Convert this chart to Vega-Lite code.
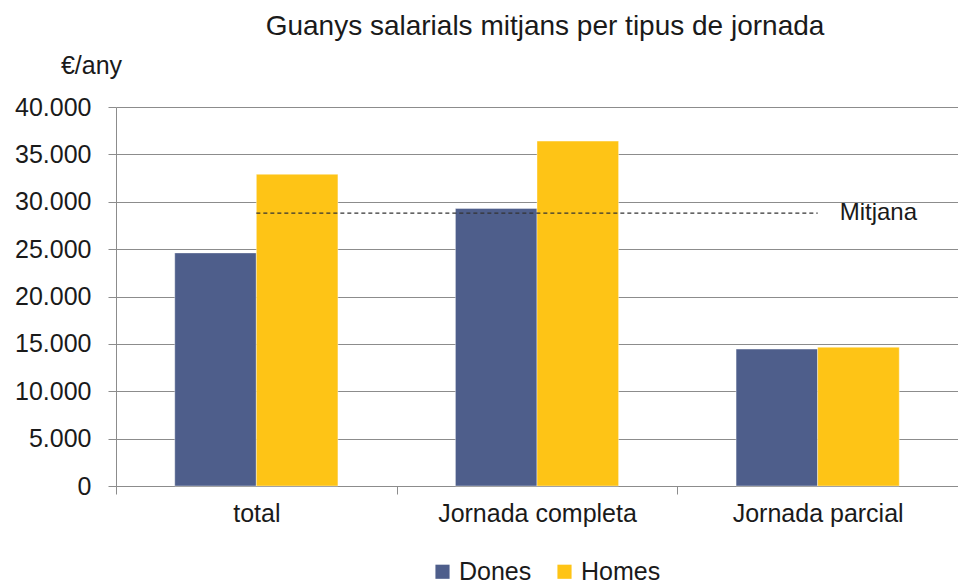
{
  "$schema": "https://vega.github.io/schema/vega-lite/v6.json",
  "width": 842,
  "height": 379,
  "autosize": "none",
  "padding": {"left": 116, "top": 107, "right": 0, "bottom": 100},
  "background": "white",
  "config": {
    "font": "Liberation Sans",
    "view": {"stroke": null},
    "text": {"font": "Liberation Sans"}
  },
  "title": {
    "text": "Guanys salarials mitjans per tipus de jornada",
    "font": "Liberation Sans",
    "fontSize": 28,
    "fontWeight": "normal",
    "color": "#1a1a1a",
    "anchor": "middle",
    "frame": "group",
    "dx": 8,
    "offset": 12
  },
  "datasets": {
    "bars": [
      {"jornada": "total", "sexe": "Dones", "guany": 24600},
      {"jornada": "total", "sexe": "Homes", "guany": 32900},
      {"jornada": "Jornada completa", "sexe": "Dones", "guany": 29300},
      {"jornada": "Jornada completa", "sexe": "Homes", "guany": 36400},
      {"jornada": "Jornada parcial", "sexe": "Dones", "guany": 14450},
      {"jornada": "Jornada parcial", "sexe": "Homes", "guany": 14650}
    ],
    "mitjana": [
      {"inici": "total", "fi": "Jornada parcial", "valor": 28800, "etiqueta": "Mitjana"}
    ]
  },
  "layer": [
    {
      "data": {"name": "bars"},
      "mark": {"type": "bar", "stroke": "#ffffff", "strokeOpacity": 0.5, "strokeWidth": 0.8},
      "encoding": {
        "x": {
          "field": "jornada",
          "type": "nominal",
          "scale": {"domain": ["total", "Jornada completa", "Jornada parcial"], "paddingInner": 0, "paddingOuter": 0},
          "axis": {
            "title": null,
            "labelAngle": 0,
            "labelLimit": 500,
            "labelFont": "Liberation Sans",
            "labelFontSize": 25,
            "labelColor": "#1a1a1a",
            "labelPadding": 7,
            "tickBand": "extent",
            "tickSize": 8,
            "tickColor": "#8c8c8c",
            "domainColor": "#8c8c8c",
            "grid": false
          }
        },
        "xOffset": {
          "field": "sexe",
          "type": "nominal",
          "scale": {"paddingInner": 0, "paddingOuter": 0.72}
        },
        "y": {
          "field": "guany",
          "type": "quantitative",
          "scale": {"domain": [0, 40000]},
          "axis": {
            "title": "€/any",
            "titleAngle": 0,
            "titleAlign": "center",
            "titleBaseline": "alphabetic",
            "titleX": -25,
            "titleY": -34,
            "titleFont": "Liberation Sans",
            "titleFontSize": 25,
            "titleFontWeight": "normal",
            "titleColor": "#1a1a1a",
            "values": [0, 5000, 10000, 15000, 20000, 25000, 30000, 35000, 40000],
            "labelExpr": "replace(format(datum.value, ',d'), ',', '.')",
            "labelFont": "Liberation Sans",
            "labelFontSize": 25,
            "labelColor": "#1a1a1a",
            "labelPadding": 17,
            "tickSize": 8,
            "tickColor": "#8c8c8c",
            "domainColor": "#8c8c8c",
            "grid": true,
            "gridColor": "#8c8c8c",
            "gridWidth": 1
          }
        },
        "color": {
          "field": "sexe",
          "type": "nominal",
          "scale": {"domain": ["Dones", "Homes"], "range": ["#4e5e8b", "#fec416"]},
          "legend": {
            "title": null,
            "orient": "none",
            "direction": "horizontal",
            "legendX": 314,
            "legendY": 452,
            "symbolType": "square",
            "symbolSize": 200,
            "symbolStrokeWidth": 0,
            "labelFont": "Liberation Sans",
            "labelFontSize": 25,
            "labelColor": "#1a1a1a",
            "labelOffset": 4,
            "columnPadding": 20
          }
        }
      }
    },
    {
      "data": {"name": "mitjana"},
      "mark": {"type": "rule", "color": "#333333", "strokeWidth": 1.2, "strokeDash": [4, 3]},
      "encoding": {
        "x": {"field": "inici", "type": "nominal"},
        "x2": {"field": "fi"},
        "y": {"field": "valor", "type": "quantitative"}
      }
    },
    {
      "data": {"name": "mitjana"},
      "mark": {"type": "text", "align": "left", "baseline": "middle", "dx": 22, "fontSize": 24, "color": "#1a1a1a", "font": "Liberation Sans"},
      "encoding": {
        "x": {"field": "fi", "type": "nominal"},
        "y": {"field": "valor", "type": "quantitative"},
        "text": {"field": "etiqueta"}
      }
    }
  ]
}
